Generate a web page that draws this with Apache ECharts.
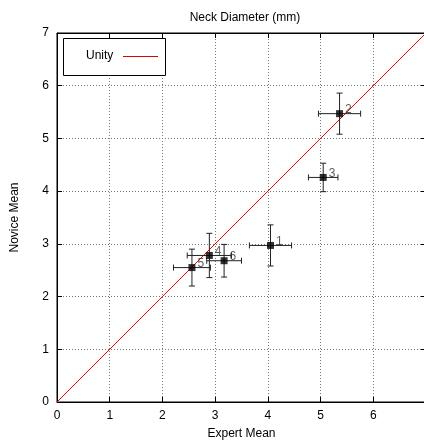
<!DOCTYPE html>
<html><head><meta charset="utf-8">
<script src="https://cdn.jsdelivr.net/npm/echarts@6/dist/echarts.min.js"></script>
<style>html,body{margin:0;padding:0;background:#fff}#c{width:424px;height:444px}</style>
</head><body><div id="c"></div>
<script>
var pointLabels = ['1','2','3','4','5','6'];
var expertMean = [4.05, 5.36, 5.05, 2.89, 2.56, 3.17];
var noviceMean = [2.97, 5.47, 4.26, 2.78, 2.55, 2.68];
var expertErr  = [0.40, 0.40, 0.28, 0.42, 0.35, 0.33];
var noviceErr  = [0.39, 0.39, 0.27, 0.42, 0.35, 0.31];
var unityLine  = [[0,0],[7,7]];

var FONT = 'Liberation Sans, Arial, sans-serif';
var pts = expertMean.map(function(x,i){return [x, noviceMean[i], expertErr[i], noviceErr[i], pointLabels[i]];});

var chart = echarts.init(document.getElementById('c'));
function axisCommon(showLabel, nameTxt, nameGap){
  return {
    type:'value', min:0, max:7, interval:1,
    name:nameTxt, nameLocation:'middle', nameGap:nameGap,
    nameTextStyle:{fontFamily:FONT,fontSize:12,color:'#000'},
    axisLine:{show:true,onZero:false,lineStyle:{color:'#000',width:1}},
    axisTick:{show:true,inside:true,length:5,lineStyle:{color:'#000'}},
    axisLabel:{show:showLabel,fontFamily:FONT,fontSize:12,color:'#000',margin:8,
      formatter:function(v){return v===7 && nameTxt==='Expert Mean' ? '' : String(v);}},
    splitLine:{show:showLabel,lineStyle:{color:'#777',type:[1,2],width:1}}
  };
}
var xa = axisCommon(true,'Expert Mean',26);
var xTop = axisCommon(false,'',0); xTop.position='top';
var ya = axisCommon(true,'Novice Mean',36);
var yRight = axisCommon(false,'',0); yRight.position='right';

chart.setOption({
  animation:false,
  title:{text:'Neck Diameter (mm)',left:240,top:7,textAlign:'center',
    textStyle:{fontFamily:FONT,fontSize:12,fontWeight:'normal',color:'#000'}},
  grid:{left:57,right:-2,top:33,bottom:42,show:true,borderColor:'#000',borderWidth:1,backgroundColor:'transparent',
    outerBoundsMode:'none',containLabel:false},
  xAxis:[xa,xTop],
  yAxis:[ya,yRight],
  legend:{show:false},
  graphic:[
    {type:'rect',left:63,top:38,shape:{width:102,height:37},style:{fill:'#fff',stroke:'#000',lineWidth:1},z:50},
    {type:'text',left:86,top:50,style:{text:'Unity',font:'12px '+FONT,fill:'#000'},z:51},
    {type:'line',shape:{x1:123,y1:56.5,x2:158,y2:56.5},style:{stroke:'#e00000',lineWidth:1},z:51}
  ],
  series:[
    {type:'custom',data:unityLine,z:2,silent:true,renderItem:function(params,api){
      if(params.dataIndex!==0) return null;
      var a=api.coord(unityLine[0]), b=api.coord(unityLine[1]);
      return {type:'line',shape:{x1:a[0],y1:a[1],x2:b[0],y2:b[1]},style:{stroke:'#ff0000',lineWidth:1,fill:null}};
    }},
    {type:'custom',data:pts,z:3,renderItem:function(params,api){
      var x=api.value(0), y=api.value(1), ex=api.value(2), ey=api.value(3);
      var l=api.coord([x-ex,y]), r=api.coord([x+ex,y]);
      var t=api.coord([x,y+ey]), b=api.coord([x,y-ey]);
      var c=3, st={stroke:'#222',lineWidth:1};
      return {type:'group',children:[
        {type:'line',shape:{x1:l[0],y1:l[1],x2:r[0],y2:r[1]},style:st},
        {type:'line',shape:{x1:l[0],y1:l[1]-c,x2:l[0],y2:l[1]+c},style:st},
        {type:'line',shape:{x1:r[0],y1:r[1]-c,x2:r[0],y2:r[1]+c},style:st},
        {type:'line',shape:{x1:t[0],y1:t[1],x2:b[0],y2:b[1]},style:st},
        {type:'line',shape:{x1:t[0]-c,y1:t[1],x2:t[0]+c,y2:t[1]},style:st},
        {type:'line',shape:{x1:b[0]-c,y1:b[1],x2:b[0]+c,y2:b[1]},style:st}
      ]};
    }},
    {type:'scatter',data:pts,symbol:'rect',symbolSize:7,itemStyle:{color:'#000'},z:4,
      label:{show:true,position:'right',distance:2,offset:[0,-4],formatter:function(p){return p.value[4];},
        fontFamily:FONT,fontSize:12,color:'#333'}}
  ]
});
</script></body></html>
